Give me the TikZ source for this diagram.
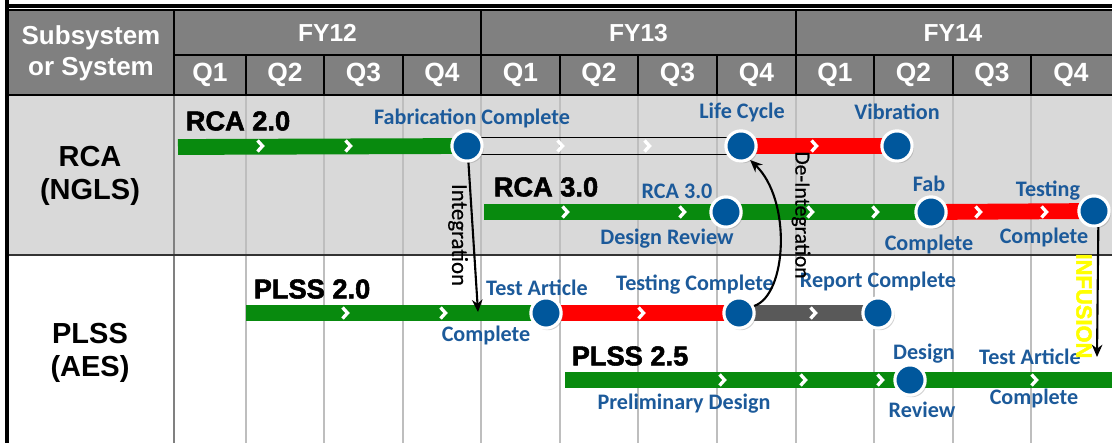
\documentclass[tikz,border=0pt]{standalone}
\usepackage{fontspec}
\setmainfont{Carlito}
\newfontfamily\arialfont{Liberation Sans}
\newfontfamily\heavyfont[BoldFeatures={FakeBold=2}]{Liberation Sans}
\newfontfamily\notefont[FakeBold=0.6]{Carlito}
\usetikzlibrary{shadows,arrows.meta}

\definecolor{bargreen}{RGB}{8,138,14}
\definecolor{barred}{RGB}{255,0,0}
\definecolor{bargray}{RGB}{89,89,89}
\definecolor{mileblue}{RGB}{0,87,156}
\definecolor{labelblue}{RGB}{28,90,154}
\definecolor{headgray}{RGB}{128,128,128}
\definecolor{rowgray}{RGB}{217,217,217}
\definecolor{gridgray}{RGB}{190,190,190}
\definecolor{infyellow}{RGB}{255,255,0}

\tikzset{
  milestone/.style={circle, fill=mileblue, draw=white, line width=1.8pt, minimum size=17.2pt, inner sep=0pt,
    drop shadow={shadow xshift=1pt, shadow yshift=-1.2pt, opacity=0.35}},
  bar/.style={line width=9pt},
  chev/.style={white, line width=1.9pt},
  tag/.style={text=labelblue, font=\bfseries\fontsize{12.6}{13}\selectfont, inner sep=0pt, align=center},
  phase/.style={font=\heavyfont\bfseries\fontsize{15.5}{16}\selectfont, inner sep=0pt},
  head/.style={text=white, font=\arialfont\bfseries\fontsize{14}{17}\selectfont, align=center, inner sep=0pt},
  side/.style={font=\arialfont\bfseries\fontsize{16.5}{19}\selectfont, align=center, inner sep=0pt},
  link/.style={black, line width=1.2pt, -{Stealth[length=7pt,width=6pt]}},
  note/.style={rotate=-90, inner sep=0pt},
}
\newcommand{\chevmark}[2]{\draw[chev] (#1-2.5,#2-5.5) -- (#1+2.5,#2) -- (#1-2.5,#2+5.5);}

\begin{document}
\begin{tikzpicture}[x=0.02cm, y=-0.02cm]
\useasboundingbox (0,0) rectangle (1112,443);

%ozadje in mreza
\fill[rowgray] (9,95) rectangle (1112,255);
\foreach \x in {246,324,403,481,560,638,717,796,874,953,1031}
  \draw[gridgray, line width=0.8pt] (\x,95) -- (\x,443);
\draw[gray, line width=0.6pt] (174,95) -- (174,443);
\draw[black!80, line width=0.9pt] (9,255) -- (1112,255);

%glava tabele
\fill[headgray] (9,10) rectangle (1112,95);
\draw[black, line width=0.8pt] (9,10) -- (1112,10);
\draw[black, line width=0.8pt] (174,55) -- (1112,55);
\draw[black, line width=1pt] (9,95) -- (1112,95);
\foreach \x in {174,481,796} \draw[black, line width=0.8pt] (\x,10) -- (\x,95);
\foreach \x in {246,324,403,560,638,717,874,953,1031} \draw[black, line width=0.8pt] (\x,55) -- (\x,95);
\draw[black, line width=2pt] (7,0) -- (7,443);
\draw[black, line width=2pt] (5,6) -- (1112,6);

\node[head, font=\arialfont\bfseries\fontsize{14.8}{17.5}\selectfont] (subsys) at (91,53) {Subsystem\\or System};
\node[head] (fy12) at (327.5,33) {FY12};
\node[head] (fy13) at (638.5,33) {FY13};
\node[head] (fy14) at (953,33) {FY14};
\foreach \x/\q [count=\i] in {210/Q1,285/Q2,363.5/Q3,442/Q4,520.5/Q1,599/Q2,677.5/Q3,756.5/Q4,835/Q1,913.5/Q2,992/Q3,1071/Q4}
  \node[head, font=\arialfont\bfseries\fontsize{15}{16}\selectfont] (q\i) at (\x,75) {\q};

%podsistemi
\node[side] (rca) at (90,176) {RCA\\(NGLS)};
\node[side] (plss) at (90,353) {PLSS\\(AES)};

%polozaji mejnikov
\coordinate (p-fab) at (467,146);
\coordinate (p-life) at (741,146);
\coordinate (p-vib) at (897,146);
\coordinate (p-rdr) at (726,212);
\coordinate (p-rfab) at (931,212);
\coordinate (p-rtest) at (1094,211);
\coordinate (p-tart) at (546,313);
\coordinate (p-ptest) at (739,313);
\coordinate (p-rep) at (878,313);
\coordinate (p-pdr) at (910,380);

%RCA 2.0
\draw[bar, bargreen] (178,147) -- (p-fab);
\draw[black, line width=0.6pt] (467,137.5) -- (741,137.5) (467,154.5) -- (741,154.5);
\draw[bar, barred] (p-life) -- (p-vib);
\foreach \x in {260,348,560,647,814} {\chevmark{\x}{146}}

%RCA 3.0
\draw[bar, bargreen] (484,212) -- (p-rfab);
\draw[bar, barred] (p-rfab) -- (p-rtest);
\foreach \x in {565,682,810,875,978,1044} {\chevmark{\x}{212}}

%PLSS 2.0
\draw[bar, bargreen] (246,313) -- (p-tart);
\draw[bar, barred] (p-tart) -- (p-ptest);
\draw[bar, bargray] (p-ptest) -- (p-rep);
\foreach \x in {345,443,641,813} {\chevmark{\x}{313}}

%PLSS 2.5
\draw[bar, bargreen] (565,380) -- (1112,380);
\foreach \x in {722,803,880,1034} {\chevmark{\x}{380}}

%mejniki
\foreach \m in {fab,life,vib,rdr,rfab,rtest,tart,ptest,rep,pdr}
  \node[milestone] (\m) at (p-\m) {};

%oznake faz
\node[phase] (rca2) at (238,121) {RCA 2.0};
\node[phase] (rca3) at (546,187) {RCA 3.0};
\node[phase] (plss2) at (312,289) {PLSS 2.0};
\node[phase] (plss25) at (630,356) {PLSS 2.5};

%oznake mejnikov
\node[tag] (tfab) at (472,118) {Fabrication Complete};
\node[tag] (tlife) at (742,112) {Life Cycle};
\node[tag] (tvib) at (897,112) {Vibration};
\node[tag] (trdr1) at (677,191) {RCA 3.0};
\node[tag] (trdr2) at (667,239) {Design Review};
\node[tag] (trfab1) at (929,184) {Fab};
\node[tag] (trfab2) at (929,244) {Complete};
\node[tag] (trtest1) at (1048,191) {Testing};
\node[tag] (trtest2) at (1044,237) {Complete};
\node[tag] (ttart1) at (537,288) {Test Article};
\node[tag] (ttart2) at (486,335) {Complete};
\node[tag] (tptest) at (695,285) {Testing Complete};
\node[tag] (trep) at (878,281) {Report Complete};
\node[tag] (tpdr1) at (924,354) {Design};
\node[tag] (tpdr2) at (922,410) {Review};
\node[tag] (tpta1) at (1030,357) {Test Article};
\node[tag] (tpta2) at (1034,398) {Complete};
\node[tag] (tprel) at (684,404) {Preliminary Design};

%povezave
\coordinate (intend) at (478,312);
\coordinate (infend) at (1097,357);
\draw[link] (fab.-85) -- (intend);
\node[note, font=\notefont\fontsize{13}{14}\selectfont] (tint) at (458,235) {Integration};
\draw[link] (ptest.25) .. controls (787,295) and (792,200) .. (life.-57);
\node[note, font=\notefont\fontsize{12.3}{13}\selectfont] (tdeint) at (801,215) {De-Integration};
\draw[link] (rtest.-75) -- (infend);
\node[note, text=infyellow, font=\heavyfont\bfseries\fontsize{12.5}{13}\selectfont] (tinf) at (1084,306) {INFUSION};

\end{tikzpicture}
\end{document}
